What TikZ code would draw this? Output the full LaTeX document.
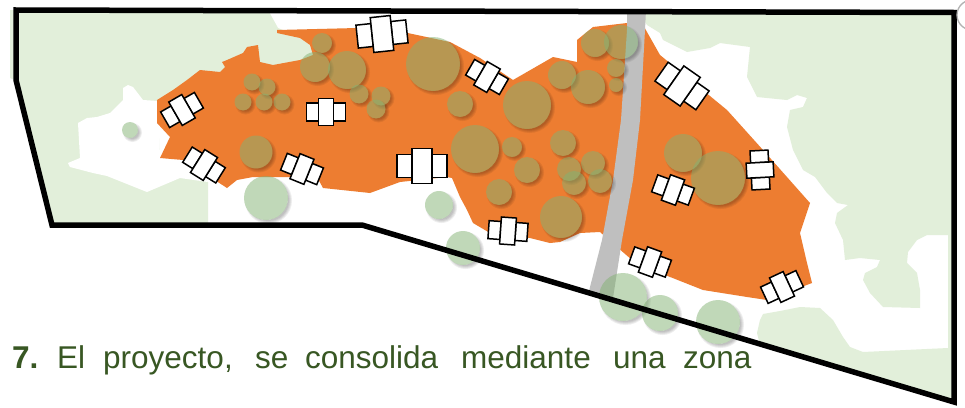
\documentclass[tikz,border=0pt]{standalone}
\usepackage{fontspec}
\setmainfont{Liberation Sans}
\definecolor{lgreen}{RGB}{226,239,218}
\definecolor{zone}{RGB}{237,125,49}
\definecolor{roadgray}{RGB}{191,191,191}
\definecolor{treegreen}{RGB}{130,178,115}
\definecolor{textgreen}{RGB}{56,87,35}

% soft shadow to the lower right of a tree, kept off the tree itself
\newcommand{\treeshade}[3]{%
  \begin{scope}[even odd rule]
    \clip (-20,-20) -- (-20,430) -- (990,430) -- (990,-20) -- cycle (#1,#2) circle (#3);
    \foreach \k in {1,...,4}{\fill[black,opacity=0.065] ({#1+2.5},{#2+2.5}) circle ({#3+2.5-\k});}
  \end{scope}}
\newcommand{\treetop}[3]{\fill[tree] (#1,#2) circle (#3);}

% group of three blocks: centre block cw x ch, side blocks sw x sh
\newcommand{\blockgroup}[7]{%
  \begin{scope}[shift={(#1,#2)},rotate=#3]
    \draw[house] (-#4/2,-#7/2) rectangle ({-#4/2-#6},#7/2);
    \draw[house] (#4/2,-#7/2) rectangle ({#4/2+#6},#7/2);
    \draw[house] (-#4/2,-#5/2) rectangle (#4/2,#5/2);
  \end{scope}}
\newcommand{\blocksM}[3]{\blockgroup{#1}{#2}{#3}{15}{27}{12}{18}}
\newcommand{\blocksL}[3]{\blockgroup{#1}{#2}{#3}{20}{35}{15}{23}}

\begin{document}
\begin{tikzpicture}[x=1pt,y=-1pt,
  tree/.style={fill=treegreen,opacity=0.5},
  house/.style={draw=black,fill=white,line width=1.5pt,line join=miter},
  border/.style={draw=black,line width=5.5pt,line join=miter},
  words/.style={anchor=base west,inner sep=0pt,text=textgreen,font=\fontsize{31.5}{38}\selectfont}]
\useasboundingbox[fill=white] (0,0) rectangle (965,407);

% green areas
\fill[lgreen] (10,10) -- (268,10) -- (278,28) -- (300,37) -- (312,47) -- (315,62) -- (280,72)
  -- (200,76) -- (157,100) -- (160,158) -- (200,174) -- (208,182) -- (208,223) -- (52,224)
  -- (15,80) -- (10,78) -- cycle;
\fill[white] (123,88) -- (128,85) -- (133,87) -- (143,100) -- (158,101) -- (160,157) -- (183,161)
  -- (200,173) -- (208,182) -- (180,178) -- (147,192) -- (107,176) -- (93,173) -- (70,167)
  -- (68,163) -- (80,158) -- (78,123) -- (87,118) -- (97,117) -- (110,113) -- (123,100) -- cycle;
\fill[lgreen] (637,10) -- (956,10) -- (956,348) -- (948,348) -- (948,235) -- (927,235) -- (917,240)
  -- (908,252) -- (907,263) -- (917,273) -- (920,290) -- (920,308) -- (883,307) -- (870,293)
  -- (863,280) -- (865,273) -- (877,267) -- (880,260) -- (860,258) -- (845,260) -- (843,240)
  -- (835,223) -- (837,213) -- (848,205) -- (837,203) -- (827,193) -- (815,177) -- (803,170)
  -- (793,150) -- (787,127) -- (790,110) -- (803,107) -- (807,98) -- (797,95) -- (787,100)
  -- (757,97) -- (747,77) -- (750,47) -- (720,43) -- (710,48) -- (687,52) -- (663,40)
  -- (660,33) -- (647,25) -- cycle;
\fill[lgreen] (757,333) -- (760,320) -- (763,314) -- (780,311) -- (800,307) -- (820,308)
  -- (833,320) -- (843,337) -- (850,347) -- (863,352) -- (948,348) -- (956,348) -- (956,404)
  -- (760,345) -- cycle;

% built-up zone
\fill[zone] (157,100) -- (173,90) -- (187,80) -- (200,70) -- (220,72) -- (225,67) -- (222,62)
  -- (227,60) -- (243,53) -- (247,47) -- (258,45) -- (260,62) -- (273,65) -- (300,60)
  -- (313,55) -- (310,45) -- (300,38) -- (277,33) -- (277,30) -- (357,28) -- (403,32)
  -- (450,42) -- (480,58) -- (513,80) -- (553,57) -- (577,62) -- (577,40) -- (593,27)
  -- (627,23) -- (643,25) -- (647,32) -- (660,55) -- (727,110) -- (763,150) -- (810,203)
  -- (800,233) -- (807,263) -- (812,283) -- (767,300) -- (747,297) -- (703,290) -- (660,273)
  -- (632,260) -- (617,247) -- (600,232) -- (580,233) -- (560,242) -- (550,243) -- (530,238)
  -- (490,233) -- (473,223) -- (467,210) -- (460,197) -- (452,178) -- (447,177) -- (400,182)
  -- (370,193) -- (323,188) -- (317,177) -- (253,177) -- (237,180) -- (227,188) -- (207,175)
  -- (183,160) -- (160,158) -- (170,137) -- (157,123) -- cycle;

% road
\fill[roadgray] (627,10) -- (646,10) -- (645,30) -- (640,120) -- (633,180) -- (622,240)
  -- (613,298) -- (589,291) -- (602,240) -- (613,180) -- (621,120) -- (627,30) -- cycle;

% trees
\def\treelist{322/43/10, 315/67/15, 347/70/19, 433/64/27, 252/82/8.5, 267/87/8.5,
  243/102/8.5, 264/102/8.5, 282/102/8.5, 359/94/9.5, 381/96/9.5, 376/109/9.5, 460/104/13,
  475/149/24, 256/152/16.5, 130/130/8, 266/198/22, 439/205/14, 463/248/17, 527/105/24,
  588/87/17, 512/147/10, 563/143/13, 527/170/13, 499/192/13, 569/169/12, 593/163/12,
  574/183/12, 600/181/12, 561/217/21, 595/43/14, 621/42/17, 616/68/9, 616/85/7, 562/75/14,
  683/153/19, 718/178/27, 623/297/24, 660/313/18, 718/322/22}
\foreach \tx/\ty/\tr in \treelist {\treeshade{\tx}{\ty}{\tr}}
\foreach \tx/\ty/\tr in \treelist {\treetop{\tx}{\ty}{\tr}}

% housing blocks
\blocksL{382}{34}{6}
\blocksM{182}{110}{30}
\blocksM{204}{165}{-32}
\blocksM{302}{169}{-22}
\blocksM{326}{112}{0}
\blocksL{422}{166}{0}
\blocksM{487}{77}{-30}
\blocksL{682}{86}{-35}
\blocksM{760}{170}{-87}
\blocksM{673}{190}{-20}
\blocksM{508}{231}{-4}
\blocksM{650}{262}{-20}
\blocksM{782}{287}{25}

% site boundary
\draw[border] (16,10) -- (954,12.5) -- (954,402) -- (362,225) -- (52,225) -- (16,80) -- cycle;
\draw[gray!60,line width=1.3pt] (972,15) circle (15);

% caption
\node[words] (n7) at (12,368) {\bfseries 7.};
\node[words] (w1) at (57,368) {El};
\node[words] (w2) at (103,368) {proyecto,};
\node[words] (w3) at (255,368) {se};
\node[words] (w4) at (305,368) {consolida};
\node[words] (w5) at (461,368) {mediante};
\node[words] (w6) at (613,368) {una};
\node[words] (w7) at (683,368) {zona};
\end{tikzpicture}
\end{document}
